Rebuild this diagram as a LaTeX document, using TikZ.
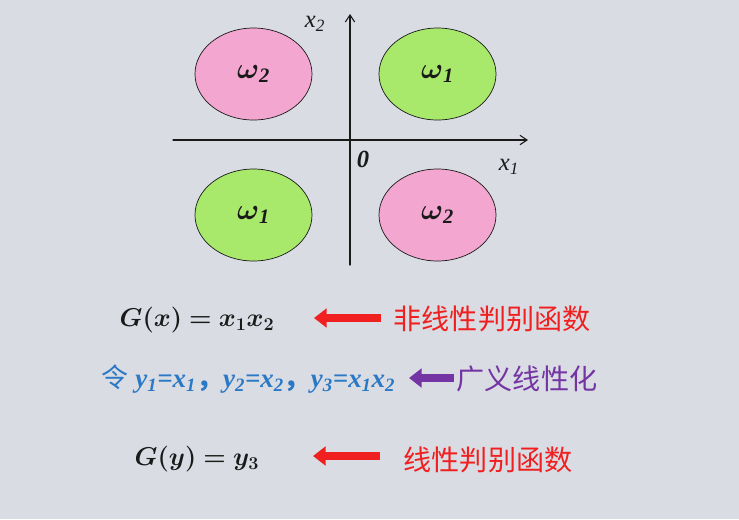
\documentclass[tikz,border=0pt]{standalone}
\usepackage{fix-cm}
\usepackage{amsmath,bm}
\usepackage{fontspec}
\setmainfont{Liberation Serif}
\newfontfamily\cjk{Noto Sans CJK SC}
\usetikzlibrary{arrows.meta,shapes.geometric}
\definecolor{bgrey}{HTML}{D9DCE2}
\definecolor{ink}{HTML}{1A1A1A}
\definecolor{pinkcls}{HTML}{F3A6CF}
\definecolor{greencls}{HTML}{A8E96C}
\definecolor{redmark}{HTML}{F02020}
\definecolor{bluemark}{HTML}{2A78C6}
\definecolor{purplemark}{HTML}{7434A4}

\begin{document}
\begin{tikzpicture}[
  x=0.03cm,y=-0.03cm,draw=ink,text=ink,
  line width=0.9pt,line cap=round,line join=round,
  cls/.style={draw,ellipse,line width=0.6pt,minimum width=3.51cm,
    minimum height=2.76cm,inner sep=0pt,font=\fontsize{25}{29}\selectfont\bfseries\itshape},
  axlab/.style={font=\fontsize{21}{25}\selectfont\itshape,inner sep=1pt},
  formula/.style={font=\fontsize{22}{26}\selectfont,inner sep=1pt},
  note/.style={font=\cjk\fontsize{24}{28}\selectfont,inner sep=1pt},
  blockarrow/.style={line width=0.24cm,line cap=butt,
    -{Triangle[width=0.56cm,length=0.38cm]}}
]
\useasboundingbox[fill=bgrey] (0,0) rectangle (739,519);

% axes of the (x1,x2) plane
\coordinate (o) at (350,140);
\coordinate (xa) at (173,140);
\coordinate (xb) at (528,140);
\coordinate (ya) at (350,265);
\coordinate (yb) at (350,14);
\draw[-{Straight Barb[length=6pt,width=8pt]}] (xa) -- (xb);
\draw[-{Straight Barb[length=6pt,width=8pt]}] (ya) -- (yb);
\node[axlab] (lx1) at (509,167) {x\textsubscript{1}};
\node[axlab] (lx2) at (315,24) {x\textsubscript{2}};
\node[axlab,font=\fontsize{21}{25}\selectfont\bfseries\itshape] (lo) at (363,159) {0};

% four class regions, XOR layout
\node[cls,fill=pinkcls] (c2a) at (253.5,74) {$\bm{\omega}$\textsubscript{2}};
\node[cls,fill=greencls] (c1a) at (437.5,74) {$\bm{\omega}$\textsubscript{1}};
\node[cls,fill=greencls] (c1b) at (253.5,215) {$\bm{\omega}$\textsubscript{1}};
\node[cls,fill=pinkcls] (c2b) at (437.5,215) {$\bm{\omega}$\textsubscript{2}};

% nonlinear discriminant
\node[formula,anchor=west] (g1) at (118,320) {$\bm{G(x)=x_1x_2}$};
\coordinate (a1s) at (381,318);
\coordinate (a1e) at (314,318);
\draw[redmark,blockarrow] (a1s) -- (a1e);
\node[note,text=redmark,anchor=west] (t1) at (392,319) {非线性判别函数};

% substitution
\node[formula,text=bluemark,anchor=west,font=\fontsize{23}{27}\selectfont\bfseries] (sub) at (100,379)
  {{\cjk\mdseries 令} \itshape y\textsubscript{1}=x\textsubscript{1}{\cjk ，}y\textsubscript{2}=x\textsubscript{2}{\cjk ，}y\textsubscript{3}=x\textsubscript{1}x\textsubscript{2}};
\coordinate (a2s) at (454,378);
\coordinate (a2e) at (409,378);
\draw[purplemark,blockarrow] (a2s) -- (a2e);
\node[note,text=purplemark,anchor=west] (t2) at (455,379) {广义线性化};

% linear discriminant
\node[formula,anchor=west] (g2) at (133,459) {$\bm{G(y)=y_3}$};
\coordinate (a3s) at (380,456);
\coordinate (a3e) at (313,456);
\draw[redmark,blockarrow] (a3s) -- (a3e);
\node[note,text=redmark,anchor=west] (t3) at (402,460) {线性判别函数};

\end{tikzpicture}
\end{document}
